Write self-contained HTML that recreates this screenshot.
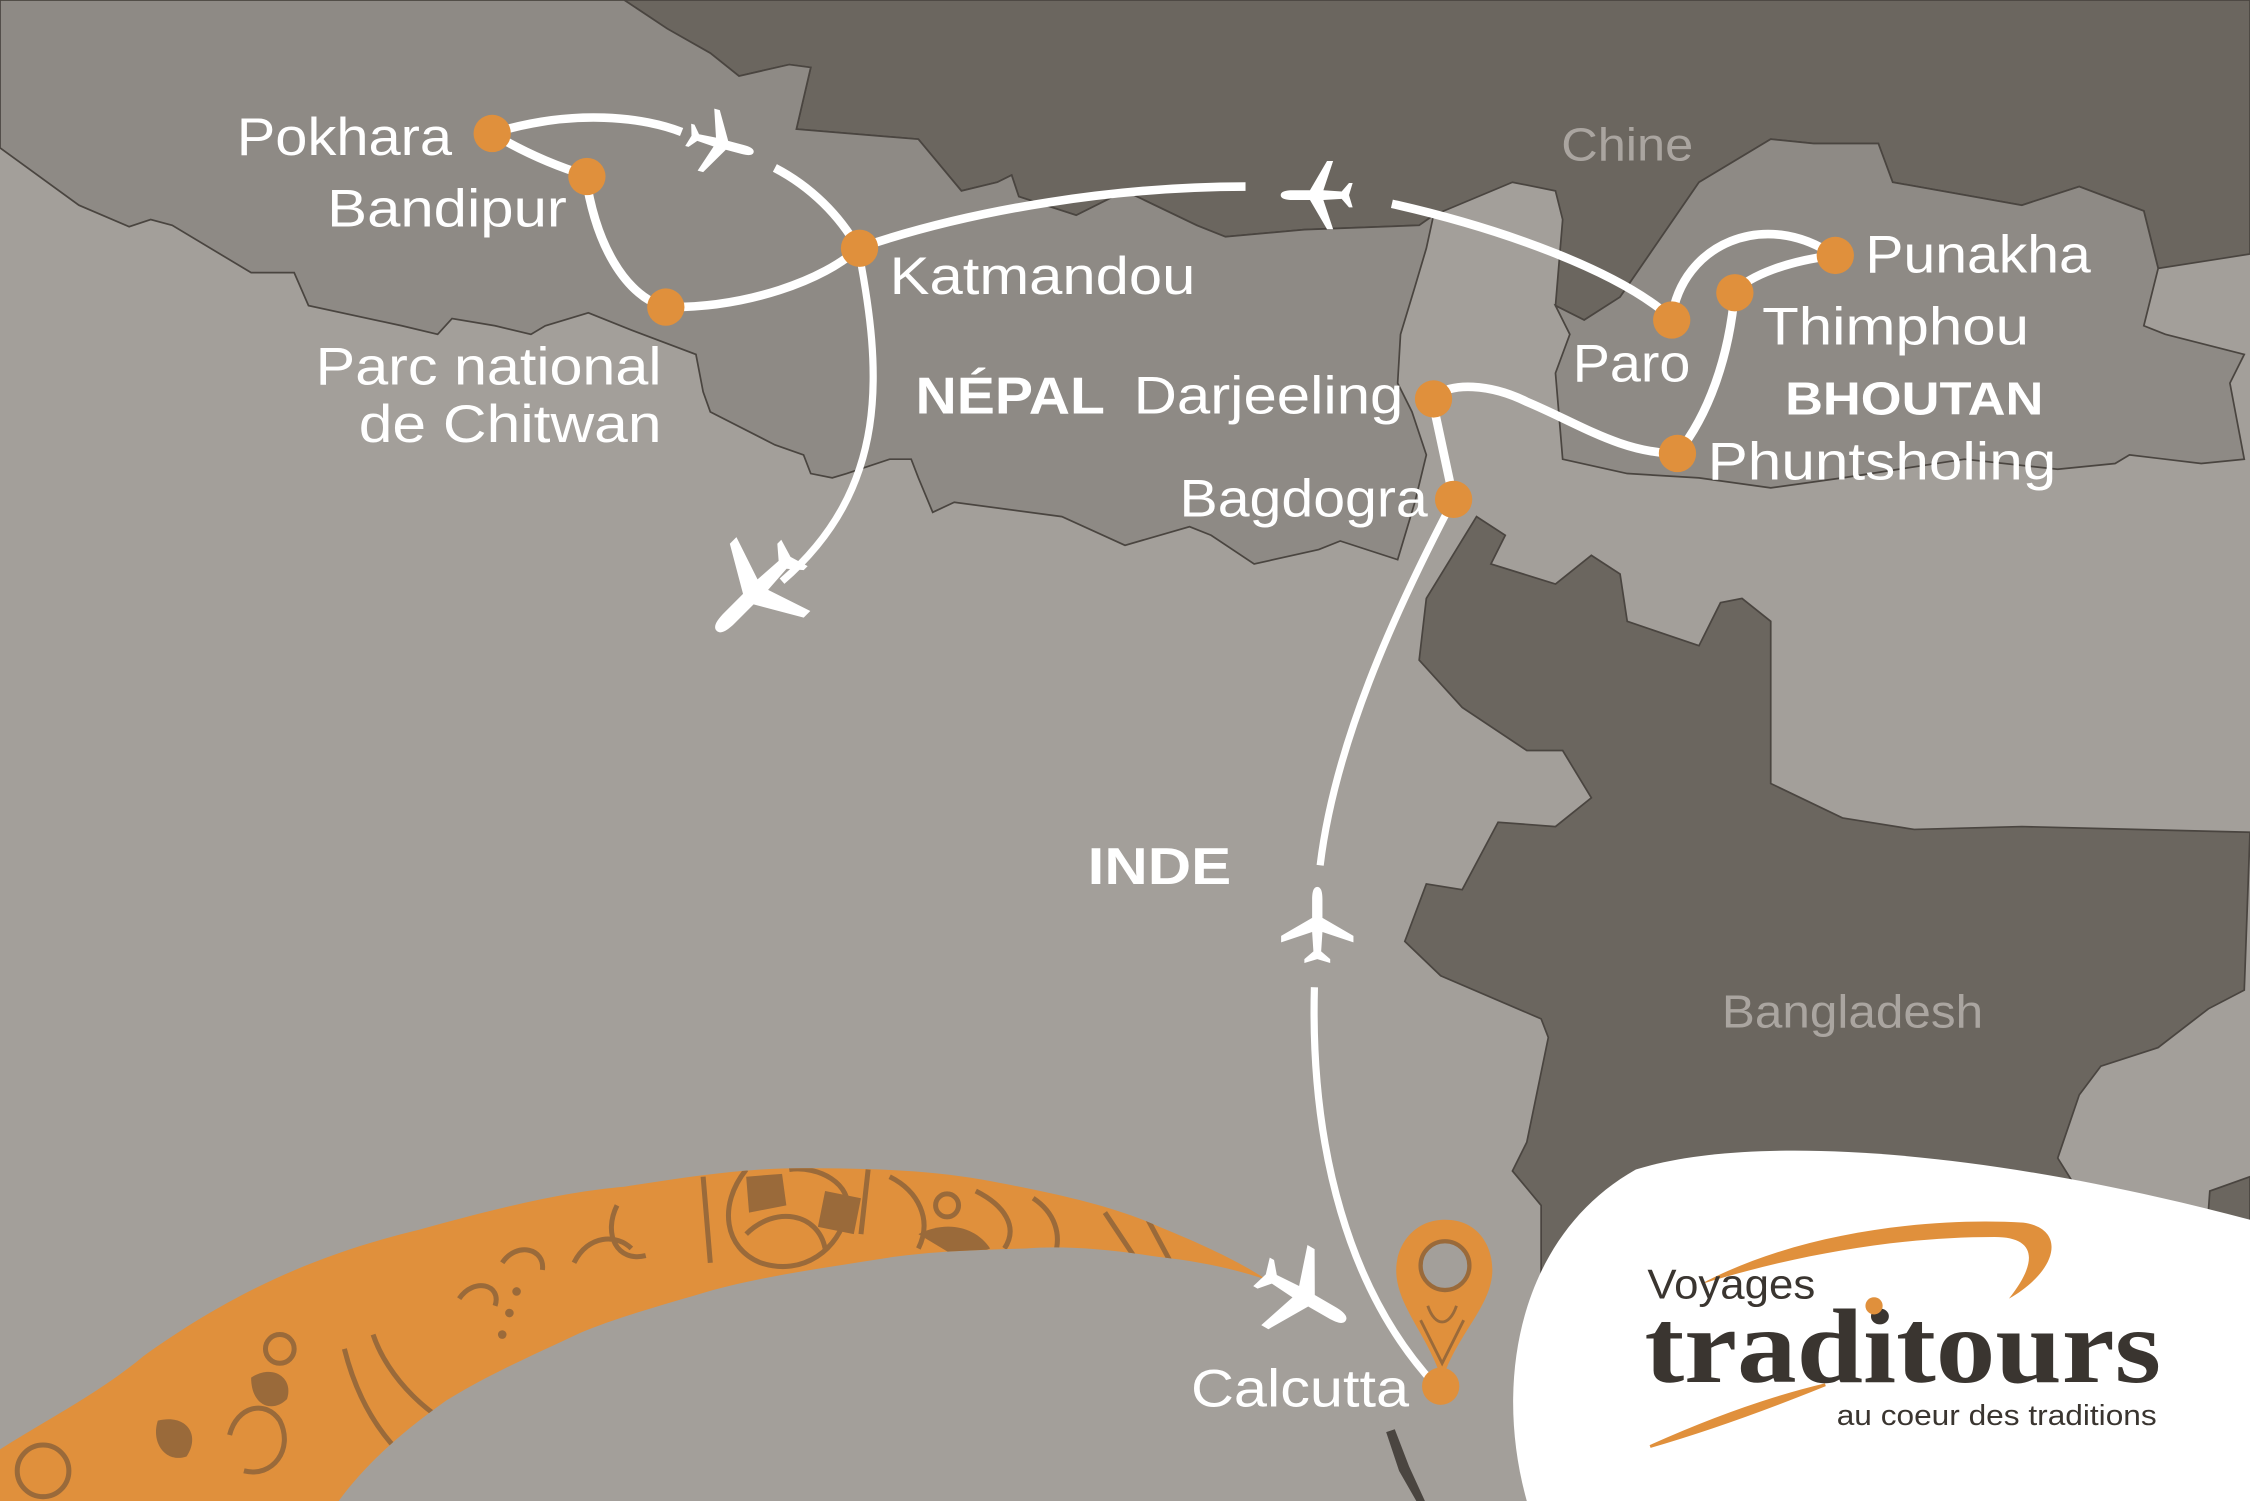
<!DOCTYPE html>
<html><head><meta charset="utf-8"><style>
html,body{margin:0;padding:0;background:#a39f9a;}
svg{display:block;}
text{font-family:"Liberation Sans",sans-serif;}
</style></head><body>
<svg width="2250" height="1501" viewBox="0 0 1568 1046" preserveAspectRatio="none" xmlns="http://www.w3.org/2000/svg">
<defs>
<path id="plane" d="M0,-30 C3,-30 4,-26 4,-20 L4,-6 L28,8 L28,13 L4,5 L3,20 L10,26 L10,29 L0,26 L-10,29 L-10,26 L-3,20 L-4,5 L-28,13 L-28,8 L-4,-6 L-4,-20 C-4,-26 -3,-30 0,-30 Z" fill="#fff"/>
<clipPath id="band"><path d="M0,1010 C40,985 70,970 100,945 C170,895 230,872 292,857 C360,838 400,830 435,827 C480,820 520,814 560,814 C610,814 650,816 684,822 C740,832 780,842 808,855 C840,868 865,880 883,892 C860,884 835,879 808,876 C770,870 740,868 715,870 C680,871 650,872 622,876 C570,884 530,890 497,899 C460,910 430,918 404,929 C370,945 340,958 311,976 C280,998 255,1020 236,1046 L0,1046 Z"/></clipPath>
</defs>
<rect width="1568" height="1046" fill="#a39f9a"/>
<!-- China -->
<path d="M435,0 L1568,0 L1568,177 L1549,180 L1504,187 L1494,147 L1449,130 L1409,143 L1319,127 L1309,100 L1264,100 L1234,97 L1184,127 L1129,207 L1104,223 L1084,213 L1089,153 L1084,133 L1054,127 L999,150 L989,157 L909,160 L854,165 L834,157 L784,133 L750,150 L710,137 L705,122 L695,127 L670,133 L640,97 L555,90 L565,47 L550,45 L515,53 L495,37 L465,20 Z" fill="#6b665f" stroke="#4a4540" stroke-width="1.2"/>
<!-- Nepal + NW -->
<path d="M0,0 L435,0 L465,20 L495,37 L515,53 L550,45 L565,47 L555,90 L640,97 L670,133 L695,127 L705,122 L710,137 L750,150 L784,133 L834,157 L854,165 L909,160 L989,157 L999,150 L994,173 L986,200 L976,233 L974,267 L984,287 L994,317 L986,350 L974,390 L934,377 L919,383 L874,393 L844,373 L829,367 L784,380 L740,360 L665,350 L650,357 L640,333 L635,320 L620,320 L590,330 L580,333 L565,330 L560,317 L540,310 L495,287 L490,273 L485,247 L440,230 L410,218 L380,227 L370,233 L345,227 L315,222 L305,233 L280,227 L215,213 L205,190 L175,190 L120,157 L105,153 L90,158 L55,143 L0,103 Z" fill="#8e8a85" stroke="#4a4540" stroke-width="1.2"/>
<!-- Bhutan -->
<path d="M1084,213 L1104,223 L1129,207 L1184,127 L1234,97 L1264,100 L1309,100 L1319,127 L1409,143 L1449,130 L1494,147 L1504,187 L1494,227 L1509,233 L1564,247 L1554,267 L1564,320 L1534,323 L1484,317 L1474,323 L1434,327 L1369,320 L1284,333 L1234,340 L1184,333 L1134,330 L1089,320 L1084,260 L1094,233 Z" fill="#8e8a85" stroke="#4a4540" stroke-width="1.2"/>
<!-- Bangladesh -->
<path d="M1029,360 L1049,373 L1039,393 L1084,407 L1109,387 L1129,400 L1134,433 L1184,450 L1199,420 L1214,417 L1234,433 L1234,546 L1284,570 L1334,578 L1409,576 L1568,580 L1564,690 L1539,703 L1504,730 L1464,743 L1449,763 L1434,807 L1444,823 L1400,900 L1074,900 L1074,840 L1054,816 L1064,796 L1079,723 L1074,710 L1004,680 L979,656 L994,616 L1019,620 L1044,573 L1084,576 L1109,556 L1089,523 L1064,523 L1019,493 L989,460 L994,417 Z" fill="#6b665f" stroke="#4a4540" stroke-width="1.2"/>
<path d="M1568,820 L1540,830 L1535,900 L1568,900 Z" fill="#6b665f" stroke="#4a4540" stroke-width="1.2"/>
<path d="M966,998 L975,1025 L987,1046 L993,1046 L982,1022 L972,996 Z" fill="#4a4540"/>

<!-- orange band -->
<g clip-path="url(#band)">
<rect x="0" y="780" width="900" height="270" fill="#e0903c"/>
<g fill="none" stroke="#9a6a3a" stroke-width="3.5">
<path d="M520,815 C500,840 505,870 530,880 C560,890 585,870 590,845 C595,825 570,812 550,815" />
<path d="M520,860 C540,840 570,845 575,870"/>
<path d="M490,820 L495,880 M605,815 L600,860 M620,820 C640,830 650,850 640,870"/>
<path d="M430,840 C420,860 430,880 450,875 M400,880 C410,860 430,860 440,870"/>
<path d="M350,880 C360,865 380,870 378,885 M320,905 C330,890 350,895 345,910"/>
<path d="M260,930 C270,960 300,990 330,1000 M240,940 C250,980 270,1010 300,1030"/>
<path d="M160,1000 C165,980 185,975 195,990 C205,1010 190,1030 170,1025"/>
<path d="M680,830 C700,840 710,855 700,870 M720,835 C735,845 740,860 735,875 M770,845 L790,875 M800,850 L815,878"/>
<circle cx="30" cy="1025" r="18"/><circle cx="195" cy="940" r="10"/><circle cx="660" cy="840" r="8"/>
</g>
<g fill="#9a6a3a">
<path d="M520,820 L545,818 L548,840 L522,845 Z"/><path d="M575,830 L600,835 L595,860 L570,855 Z"/>
<path d="M175,960 C190,950 205,960 200,975 C190,985 175,980 175,960 Z"/>
<path d="M110,990 C130,985 140,1000 130,1015 C115,1020 105,1005 110,990 Z"/>
<circle cx="360" cy="900" r="3"/><circle cx="355" cy="915" r="3"/><circle cx="350" cy="930" r="3"/>
<path d="M640,860 C660,850 680,855 690,870 L670,878 Z"/>
</g>
</g>

<!-- white logo blob -->
<path d="M1064,1046 C1040,960 1060,860 1140,815 C1220,790 1380,800 1568,850 L1568,1046 Z" fill="#fff"/>
<path d="M1185,895 C1250,860 1340,848 1410,852 C1440,856 1435,885 1400,905 C1420,880 1420,862 1390,862 C1320,862 1250,875 1185,895 Z" fill="#e0903c"/>
<path d="M1150,1008 C1190,990 1230,975 1272,965 C1235,980 1195,995 1150,1008 Z" fill="#e0903c" stroke="#e0903c" stroke-width="2"/>
<text x="1148" y="905" font-size="29" fill="#3a3530" textLength="117" lengthAdjust="spacingAndGlyphs">Voyages</text>
<text x="1146" y="963" font-size="74" fill="#3a3530" font-weight="bold" style="font-family:'Liberation Serif',serif" textLength="360" lengthAdjust="spacingAndGlyphs">traditours</text>
<circle cx="1306" cy="910" r="6" fill="#e0903c"/>
<text x="1280" y="993" font-size="20" fill="#3a3530" textLength="223" lengthAdjust="spacingAndGlyphs">au coeur des traditions</text>

<!-- routes -->
<g fill="none" stroke="#fff" stroke-width="6" stroke-linecap="butt">
<path d="M343,93 C400,75 450,82 475,92"/>
<path d="M540,117 C565,130 585,150 598,173"/>
<path d="M343,93 Q375,112 408,122"/>
<path d="M408,122 C415,170 435,205 463,214"/>
<path d="M463,214 C520,215 575,195 598,173"/>
<path d="M598,173 C680,145 780,130 868,130"/>
<path d="M970,142 C1050,160 1130,190 1165,222"/>
<path d="M598,173 C615,260 620,340 545,405" stroke-width="5"/>
<path d="M1165,222 C1172,170 1230,145 1278,178"/>
<path d="M1278,178 C1245,182 1220,192 1209,203"/>
<path d="M1209,203 C1205,250 1190,290 1169,316"/>
<path d="M1169,316 C1130,316 1100,295 1064,280 C1040,268 1010,265 998,278"/>
<path d="M998,278 L1013,348"/>
<path d="M1013,348 C970,430 930,520 920,603" stroke-width="5"/>
<path d="M916,688 C913,800 940,900 1000,965" stroke-width="5"/>
</g>
<!-- planes -->
<use href="#plane" transform="translate(502,100) rotate(105) scale(0.8)"/>
<use href="#plane" transform="translate(918,136) rotate(-90) scale(0.85)"/>
<use href="#plane" transform="translate(918,645) scale(0.9)"/>
<use href="#plane" transform="translate(527,412) rotate(225) scale(1.3)"/>
<use href="#plane" transform="translate(908,903) rotate(120) scale(1.15)"/>

<!-- pin -->
<path d="M1007,850 C1030,850 1040,868 1040,885 C1040,910 1015,930 1005,962 C995,930 973,910 973,885 C973,868 985,850 1007,850 Z" fill="#e0903c"/>
<circle cx="1007" cy="882" r="17" fill="#a39f9a" stroke="#9a6a3a" stroke-width="3"/>
<path d="M995,910 C1000,925 1010,925 1015,910 M990,920 L1005,950 L1020,920" fill="none" stroke="#9a6a3a" stroke-width="2"/>
<circle cx="1004" cy="966" r="13" fill="#e0903c"/>

<!-- dots -->
<g fill="#e0903c">
<circle cx="343" cy="93" r="13"/><circle cx="409" cy="123" r="13"/><circle cx="464" cy="214" r="13"/><circle cx="599" cy="173" r="13"/>
<circle cx="1165" cy="223" r="13"/><circle cx="1209" cy="204" r="13"/><circle cx="1279" cy="178" r="13"/><circle cx="1169" cy="316" r="13"/>
<circle cx="999" cy="278" r="13"/><circle cx="1013" cy="348" r="13"/>
</g>

<!-- labels -->
<g fill="#fff" font-size="37">
<text x="165" y="108" textLength="150" lengthAdjust="spacingAndGlyphs">Pokhara</text>
<text x="228" y="158" textLength="167" lengthAdjust="spacingAndGlyphs">Bandipur</text>
<text x="620" y="205" textLength="213" lengthAdjust="spacingAndGlyphs">Katmandou</text>
<text x="220" y="268" textLength="241" lengthAdjust="spacingAndGlyphs">Parc national</text>
<text x="250" y="308" textLength="211" lengthAdjust="spacingAndGlyphs">de Chitwan</text>
<text x="790" y="288" textLength="188" lengthAdjust="spacingAndGlyphs">Darjeeling</text>
<text x="822" y="360" textLength="173" lengthAdjust="spacingAndGlyphs">Bagdogra</text>
<text x="1096" y="266" textLength="82" lengthAdjust="spacingAndGlyphs">Paro</text>
<text x="1300" y="190" textLength="157" lengthAdjust="spacingAndGlyphs">Punakha</text>
<text x="1228" y="240" textLength="186" lengthAdjust="spacingAndGlyphs">Thimphou</text>
<text x="1190" y="334" textLength="243" lengthAdjust="spacingAndGlyphs">Phuntsholing</text>
<text x="830" y="980" textLength="152" lengthAdjust="spacingAndGlyphs">Calcutta</text>
<text x="638" y="288" font-weight="bold" font-size="36" textLength="132" lengthAdjust="spacingAndGlyphs">NÉPAL</text>
<text x="1244" y="289" font-weight="bold" font-size="32" textLength="180" lengthAdjust="spacingAndGlyphs">BHOUTAN</text>
<text x="758" y="616" font-weight="bold" font-size="36" textLength="100" lengthAdjust="spacingAndGlyphs">INDE</text>
</g>
<text x="1088" y="112" font-size="32" fill="#aaa5a0" textLength="92" lengthAdjust="spacingAndGlyphs">Chine</text>
<text x="1200" y="716" font-size="32" fill="#aaa5a0" textLength="182" lengthAdjust="spacingAndGlyphs">Bangladesh</text>
</svg>
</body></html>
